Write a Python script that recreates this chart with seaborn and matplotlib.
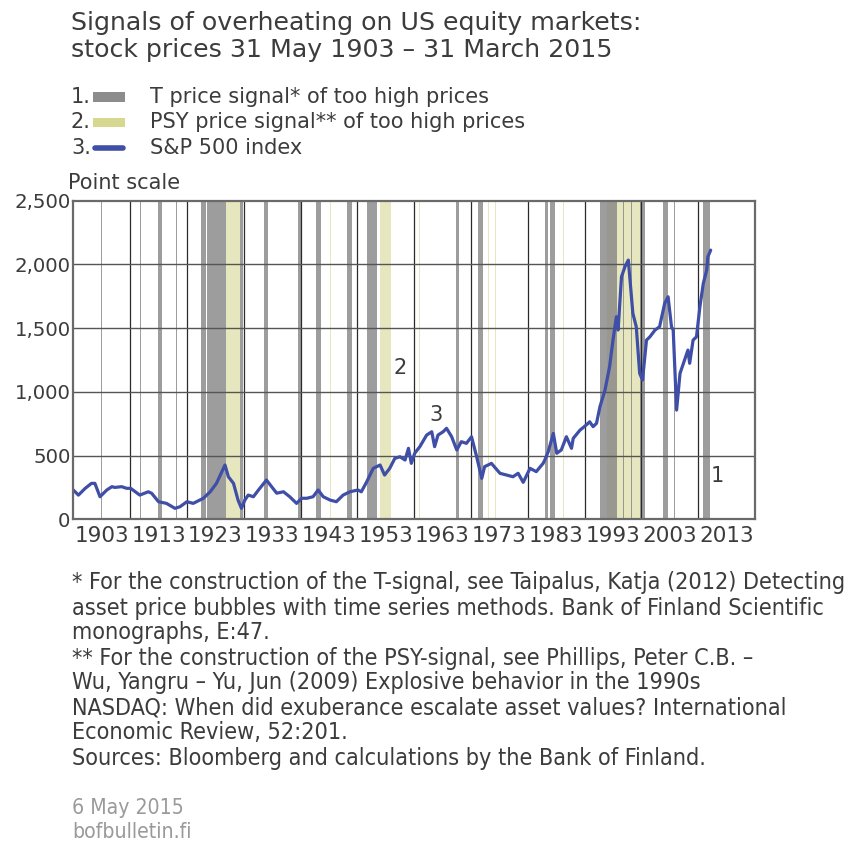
import matplotlib
matplotlib.use("Agg")
import matplotlib.pyplot as plt
import seaborn as sns
import pandas as pd
from matplotlib.patches import Rectangle
from matplotlib.lines import Line2D
from matplotlib.ticker import FuncFormatter, FixedLocator

# ---------------- data ----------------
years = [1903.0, 1903.9, 1905.1, 1906.2, 1906.8, 1907.7, 1908.9, 1909.8, 1910.3, 1911.5,
         1912.4, 1913.1, 1914.7, 1916.2, 1916.8, 1918.0, 1919.4, 1920.9, 1921.8, 1923.0,
         1924.1, 1925.9, 1927.1, 1928.2, 1929.7, 1930.3, 1931.2, 1932.0, 1932.6, 1933.2,
         1933.8, 1934.7, 1935.6, 1937.0, 1937.9, 1938.8, 1940.0, 1941.1, 1942.3, 1943.2,
         1944.1, 1945.2, 1946.1, 1947.0, 1948.2, 1949.3, 1950.5, 1951.7, 1953.1, 1953.7,
         1954.6, 1955.8, 1957.0, 1957.8, 1958.7, 1959.6, 1960.5, 1961.4, 1962.0, 1962.5,
         1963.1, 1964.0, 1965.2, 1966.1, 1966.6, 1967.2, 1968.1, 1968.7, 1969.6, 1970.5,
         1971.3, 1972.2, 1973.1, 1974.0, 1974.9, 1975.4, 1976.6, 1978.1, 1979.3, 1980.4,
         1981.3, 1982.2, 1983.4, 1984.5, 1985.7, 1986.0, 1986.6, 1987.5, 1988.1, 1988.9,
         1989.8, 1990.7, 1991.0, 1992.2, 1993.3, 1993.9, 1994.5, 1995.1, 1995.7, 1996.6,
         1997.4, 1998.0, 1998.6, 1998.9, 1999.5, 2000.1, 2000.7, 2001.1, 2001.5, 2002.1,
         2002.7, 2003.2, 2003.9, 2004.5, 2005.4, 2006.2, 2007.1, 2007.7, 2008.3, 2008.6,
         2009.2, 2009.8, 2010.6, 2011.2, 2011.5, 2012.1, 2012.7, 2013.3, 2013.9, 2014.5,
         2014.7, 2015.2]
sp500 = [230, 190, 243, 282, 282, 177, 230, 256, 250, 256,
         243, 243, 190, 216, 204, 138, 125, 86, 99, 138,
         125, 165, 216, 282, 426, 334, 282, 151, 86, 151,
         190, 177, 230, 308, 256, 205, 216, 177, 125, 165,
         165, 177, 230, 177, 151, 138, 190, 216, 230, 216,
         290, 400, 426, 347, 400, 478, 491, 465, 557, 439,
         518, 570, 661, 687, 570, 661, 687, 714, 648, 544,
         609, 596, 648, 491, 321, 413, 439, 361, 347, 334,
         361, 290, 400, 374, 439, 465, 531, 674, 518, 544,
         648, 557, 635, 700, 740, 765, 727, 753, 883, 1014,
         1197, 1406, 1589, 1485, 1903, 1981, 2034, 1825, 1616, 1511,
         1145, 1093, 1406, 1432, 1485, 1511, 1694, 1746, 1511, 1485,
         857, 1145, 1249, 1328, 1224, 1406, 1432, 1668, 1851, 1955,
         2060, 2112]

t_signal_start = [1907.9, 1914.7, 1917.85, 1921.0, 1925.5, 1926.5, 1932.4, 1936.5,
                  1942.6, 1945.7, 1951.1, 1954.7, 1970.3, 1974.2, 1986.0, 1987.0,
                  1995.7, 1999.7, 2001.2, 2002.8, 2006.8, 2008.8, 2013.8]
t_signal_end = [1908.1, 1914.9, 1918.55, 1921.2, 1926.3, 1929.9, 1932.9, 1937.2,
                1943.3, 1946.6, 1952.0, 1956.4, 1970.9, 1975.1, 1986.6, 1987.8,
                1998.7, 1999.9, 2001.4, 2003.7, 2007.7, 2009.0, 2015.0]
psy_signal_start = [1929.9, 1948.1, 1957.0, 1963.8, 1976.0, 1977.2, 1989.2, 1996.9]
psy_signal_end = [1932.4, 1948.3, 1958.9, 1964.0, 1976.2, 1977.4, 1989.4, 2002.8]

decade_ticks = list(range(1903, 2024, 10))
decade_labels = [str(y) for y in range(1903, 2014, 10)]
y_ticks = [0, 500, 1000, 1500, 2000, 2500]

legend_labels = ["T price signal* of too high prices",
                 "PSY price signal** of too high prices",
                 "S&P 500 index"]
footnotes = ["* For the construction of the T-signal, see Taipalus, Katja (2012) Detecting",
             "asset price bubbles with time series methods. Bank of Finland Scientific",
             "monographs, E:47.",
             "** For the construction of the PSY-signal, see Phillips, Peter C.B. \u2013",
             "Wu, Yangru \u2013 Yu, Jun (2009) Explosive behavior in the 1990s",
             "NASDAQ: When did exuberance escalate asset values? International",
             "Economic Review, 52:201.",
             "Sources: Bloomberg and calculations by the Bank of Finland."]

df = pd.DataFrame({"year": years, "value": sp500})

# ---------------- style ----------------
sns.set_theme(style="white")
plt.rcParams['font.family'] = ['DejaVu Sans']
TXT = "#3c3c3c"
T_COL = "#858585"
PSY_COL = "#d4d58c"
LINE_COL = "#3f4ea6"

W, H = 851, 844
fig = plt.figure(figsize=(W / 100, H / 100), dpi=100)
ax = fig.add_axes([73.3 / W, 1 - 519.3 / H, (755 - 73.3) / W, (519.3 - 200.7) / H])

for s, e in zip(psy_signal_start, psy_signal_end):
    ax.axvspan(s, e, color=PSY_COL, alpha=0.55, lw=0, zorder=1)
for s, e in zip(t_signal_start, t_signal_end):
    ax.axvspan(s, e, color=T_COL, alpha=0.8, lw=0, zorder=2)

sns.lineplot(data=df, x="year", y="value", ax=ax, color=LINE_COL, lw=2.3,
             zorder=5, legend=False)

ax.set_xlim(1903, 2023)
ax.set_ylim(0, 2500)
ax.xaxis.set_major_locator(FixedLocator(decade_ticks))
ax.xaxis.set_minor_locator(FixedLocator([t + 5 for t in decade_ticks[:-1]]))
ax.set_xticklabels([], minor=False)
ax.set_xticklabels(decade_labels, minor=True)
ax.set_yticks(y_ticks)
ax.yaxis.set_major_formatter(FuncFormatter(lambda v, p: f"{int(v):,}"))
ax.tick_params(axis="x", which="both", length=0, labelsize=15.5, colors=TXT, pad=5)
ax.tick_params(axis="y", length=0, labelsize=14.2, colors=TXT, pad=2)
ax.set_xlabel("")
ax.set_ylabel("")

for t in decade_ticks[1:-1]:
    ax.axvline(t, color="#2a2a2a", lw=0.9, zorder=3)
for v in y_ticks[1:-1]:
    ax.axhline(v, color="#555555", lw=1.0, zorder=3)
for sp in ax.spines.values():
    sp.set_color("#6a6a6a")
    sp.set_linewidth(1.6)
    sp.set_zorder(6)

ax.text(1960.5, 1187, "2", fontsize=15, color=TXT, ha="center", va="center", zorder=7)
ax.text(1966.8, 818, "3", fontsize=15, color=TXT, ha="center", va="center", zorder=7)
ax.text(2016.3, 340, "1", fontsize=15, color=TXT, ha="center", va="center", zorder=7)

# ---------------- texts ----------------
def fy(py):
    return 1 - py / H

def fx(px):
    return px / W

fig.text(fx(71), fy(23), "Signals of overheating on US equity markets:", fontsize=18.2,
         color=TXT, va="center", ha="left")
fig.text(fx(71), fy(50), "stock prices 31 May 1903 \u2013 31 March 2015", fontsize=18.2,
         color=TXT, va="center", ha="left")

rows = [97, 122.5, 148]
for i, (r, lab) in enumerate(zip(rows, legend_labels)):
    fig.text(fx(71), fy(r), f"{i + 1}.", fontsize=15, color=TXT, va="center", ha="left")
    fig.text(fx(150), fy(r), lab, fontsize=15, color=TXT, va="center", ha="left")
fig.patches.append(Rectangle((fx(93), fy(rows[0]) - 4.5 / H), 32 / W, 9 / H,
                             transform=fig.transFigure, color="#8c8c8c", lw=0))
fig.patches.append(Rectangle((fx(93), fy(rows[1]) - 4.5 / H), 32 / W, 9 / H,
                             transform=fig.transFigure, color="#d6d890", lw=0))
fig.lines.append(Line2D([fx(95), fx(123)], [fy(rows[2]), fy(rows[2])],
                        transform=fig.transFigure, color=LINE_COL, lw=4,
                        solid_capstyle="round"))

fig.text(fx(68), fy(183), "Point scale", fontsize=15, color=TXT, va="center", ha="left")

for k, line in enumerate(footnotes):
    fig.text(fx(72), fy(583 + 25 * k), line, fontsize=16.75, color=TXT, va="center",
             ha="left", fontstretch="condensed")
fig.text(fx(72), fy(808), "6 May 2015", fontsize=15.2, color="#9a9a9a", va="center",
         ha="left", fontstretch="condensed")
fig.text(fx(72), fy(832), "bofbulletin.fi", fontsize=15.2, color="#9a9a9a", va="center",
         ha="left", fontstretch="condensed")

fig.savefig("out.png", dpi=100, facecolor="white")
